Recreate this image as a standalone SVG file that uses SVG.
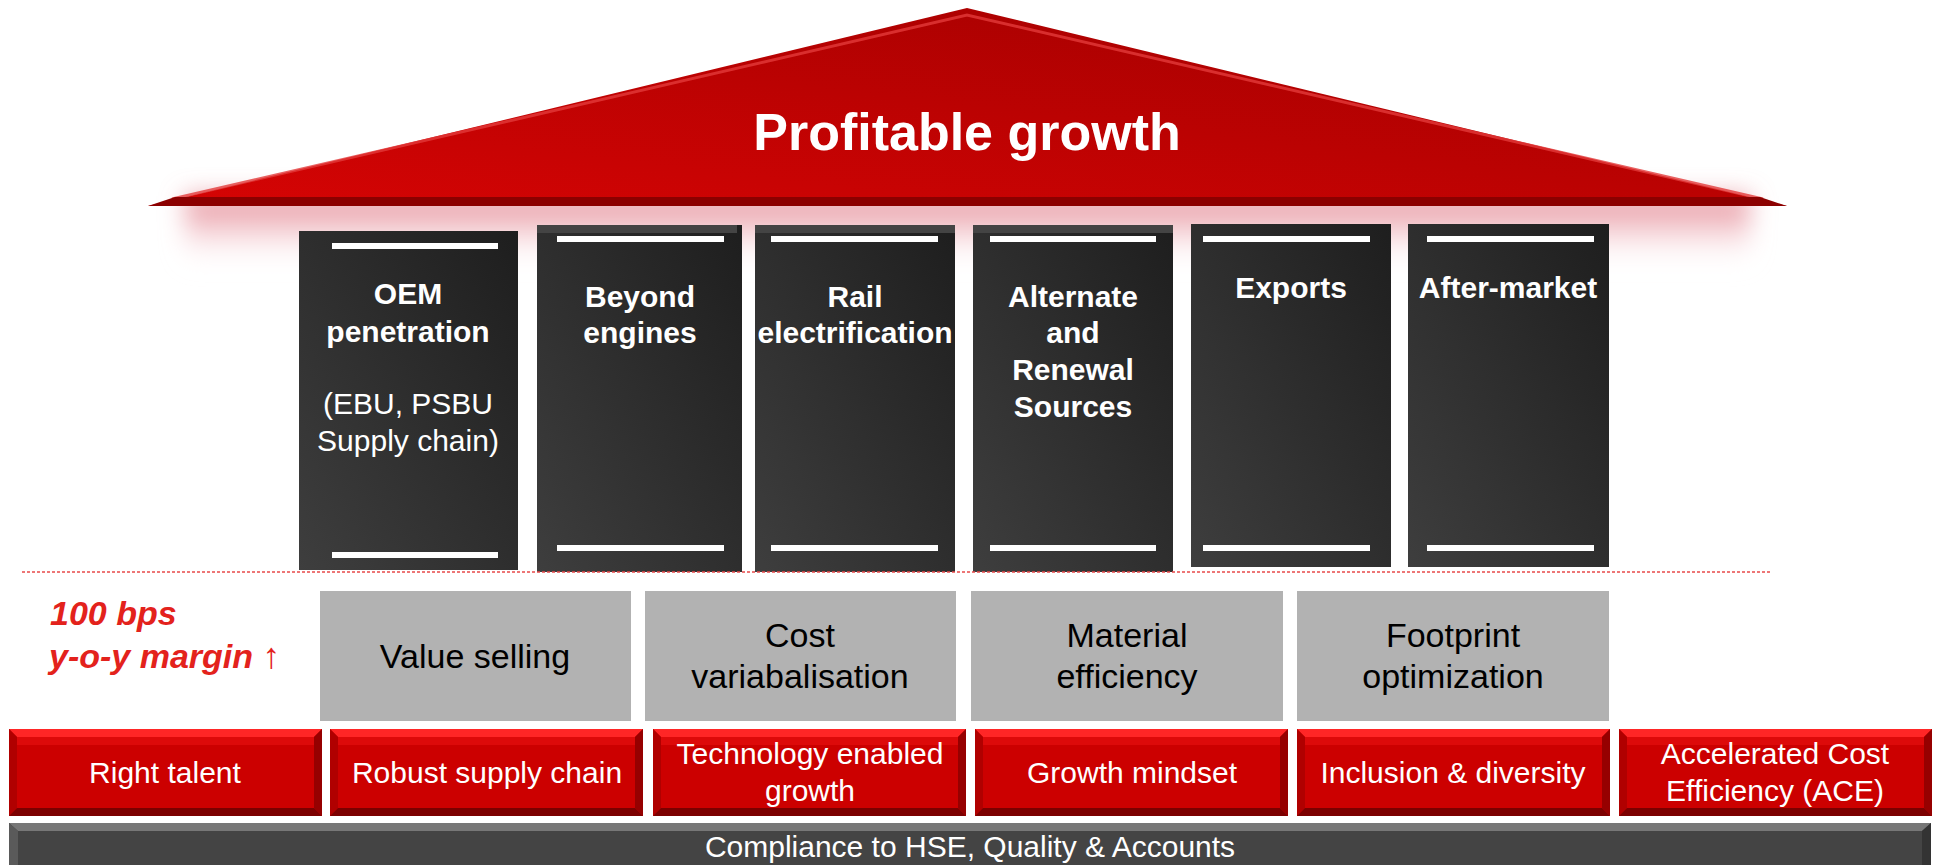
<svg xmlns="http://www.w3.org/2000/svg" width="1937" height="865" viewBox="0 0 1937 865">
<style>
.pt{font-family:"Liberation Sans",Arial,sans-serif;font-weight:bold;font-size:30px;fill:#fff;text-anchor:middle}
.pr{font-family:"Liberation Sans",Arial,sans-serif;font-size:30px;fill:#fff;text-anchor:middle}
.gt{font-family:"Liberation Sans",Arial,sans-serif;font-size:34px;fill:#000;text-anchor:middle}
.rt{font-family:"Liberation Sans",Arial,sans-serif;font-size:30px;fill:#fff;text-anchor:middle}
.lt{font-family:"Liberation Sans",Arial,sans-serif;font-size:34px;font-weight:bold;font-style:italic;fill:#e3221c}
.gb{fill:#b2b2b2}
.bar{fill:#fff}
.pil{fill:url(#pg)}
.strip{fill:#444}
</style>
<defs>
<linearGradient id="roofg" x1="0" y1="1" x2="1" y2="0">
<stop offset="0" stop-color="#d60404"/>
<stop offset="1" stop-color="#a00000"/>
</linearGradient>
<linearGradient id="pg" x1="0" y1="1" x2="1" y2="0">
<stop offset="0" stop-color="#3e3e3e"/>
<stop offset="1" stop-color="#1e1e1e"/>
</linearGradient>
<linearGradient id="glowg" x1="0" y1="0" x2="0" y2="1">
<stop offset="0" stop-color="#e07a86" stop-opacity="0.9"/>
<stop offset="0.5" stop-color="#f0b8c0" stop-opacity="0.6"/>
<stop offset="1" stop-color="#ffffff" stop-opacity="0"/>
</linearGradient>
<filter id="blur" x="-10%" y="-50%" width="120%" height="200%">
<feGaussianBlur stdDeviation="12"/>
</filter>
<symbol id="redbox" viewBox="0 0 313 87" width="313" height="87">
<rect x="0" y="0" width="313" height="87" fill="#cc0000"/>
<polygon points="0,0 313,0 305,8 8,8" fill="#ff2626"/>
<polygon points="0,0 8,8 8,79 0,87" fill="#b00000"/>
<polygon points="313,0 313,87 305,79 305,8" fill="#960000"/>
<polygon points="0,87 8,79 305,79 313,87" fill="#7c0000"/>
<rect x="8" y="8" width="297" height="8" fill="#dd0a0a"/>
</symbol>
</defs>

<!-- roof glow -->
<rect x="185" y="196" width="1565" height="70" fill="url(#glowg)" filter="url(#blur)"/>

<g id="roof">
<polygon points="967,8 148,206 1787,206" fill="url(#roofg)"/>
<polyline points="172,199 967,15 1763,199" fill="none" stroke="#e23a3a" stroke-width="3" stroke-opacity="0.8"/>
<polygon points="175,197 1760,197 1787,206 148,206" fill="#8c0000"/>
<text x="967" y="150" font-family="Liberation Sans, Arial, sans-serif" font-weight="bold" font-size="52" fill="#fff" text-anchor="middle">Profitable growth</text>
</g>

<g id="pillar-oem">
<rect class="pil" x="299" y="231" width="219" height="339"/>
<rect class="bar" x="332" y="243" width="166" height="6"/>
<rect class="bar" x="332" y="552" width="166" height="6"/>
<text class="pt" x="408" y="304">OEM</text>
<text class="pt" x="408" y="342">penetration</text>
<text class="pr" x="408" y="414">(EBU, PSBU</text>
<text class="pr" x="408" y="451">Supply chain)</text>
</g>

<g id="pillar-beyond">
<rect class="pil" x="537" y="225" width="205" height="347"/>
<rect class="strip" x="537" y="225" width="200" height="8"/>
<rect class="bar" x="557" y="236" width="167" height="6"/>
<rect class="bar" x="557" y="545" width="167" height="6"/>
<text class="pt" x="640" y="307">Beyond</text>
<text class="pt" x="640" y="343">engines</text>
</g>

<g id="pillar-rail">
<rect class="pil" x="755" y="225" width="200" height="347"/>
<rect class="strip" x="755" y="225" width="200" height="8"/>
<rect class="bar" x="771" y="236" width="167" height="6"/>
<rect class="bar" x="771" y="545" width="167" height="6"/>
<text class="pt" x="855" y="307">Rail</text>
<text class="pt" x="855" y="343">electrification</text>
</g>

<g id="pillar-alternate">
<rect class="pil" x="973" y="225" width="200" height="347"/>
<rect class="strip" x="973" y="225" width="200" height="8"/>
<rect class="bar" x="990" y="236" width="166" height="6"/>
<rect class="bar" x="990" y="545" width="166" height="6"/>
<text class="pt" x="1073" y="307">Alternate</text>
<text class="pt" x="1073" y="343">and</text>
<text class="pt" x="1073" y="380">Renewal</text>
<text class="pt" x="1073" y="417">Sources</text>
</g>

<g id="pillar-exports">
<rect class="pil" x="1191" y="224" width="200" height="343"/>
<rect class="bar" x="1203" y="236" width="167" height="6"/>
<rect class="bar" x="1203" y="545" width="167" height="6"/>
<text class="pt" x="1291" y="298">Exports</text>
</g>

<g id="pillar-aftermarket">
<rect class="pil" x="1408" y="224" width="201" height="343"/>
<rect class="bar" x="1427" y="236" width="167" height="6"/>
<rect class="bar" x="1427" y="545" width="167" height="6"/>
<text class="pt" x="1508" y="298">After-market</text>
</g>

<g id="connectors">
<line x1="22" y1="572" x2="1772" y2="572" stroke="#e84a4a" stroke-width="1.5" stroke-dasharray="3,2"/>
</g>

<g id="margin-label">
<text class="lt" x="50" y="625">100 bps</text>
<text class="lt" x="49" y="668">y-o-y margin <tspan font-style="normal" font-weight="normal" font-size="36">↑</tspan></text>
</g>

<g id="gray-value"><rect class="gb" x="320" y="591" width="311" height="130"/><text class="gt" x="475" y="668">Value selling</text></g>
<g id="gray-cost"><rect class="gb" x="645" y="591" width="311" height="130"/><text class="gt" x="800" y="647">Cost</text><text class="gt" x="800" y="688">variabalisation</text></g>
<g id="gray-material"><rect class="gb" x="971" y="591" width="312" height="130"/><text class="gt" x="1127" y="647">Material</text><text class="gt" x="1127" y="688">efficiency</text></g>
<g id="gray-footprint"><rect class="gb" x="1297" y="591" width="312" height="130"/><text class="gt" x="1453" y="647">Footprint</text><text class="gt" x="1453" y="688">optimization</text></g>

<g id="red-talent"><use href="#redbox" x="9" y="729"/><text class="rt" x="165" y="783">Right talent</text></g>
<g id="red-supply"><use href="#redbox" x="330" y="729"/><text class="rt" x="487" y="783">Robust supply chain</text></g>
<g id="red-tech"><use href="#redbox" x="653" y="729"/><text class="rt" x="810" y="764">Technology enabled</text><text class="rt" x="810" y="801">growth</text></g>
<g id="red-growth"><use href="#redbox" x="975" y="729"/><text class="rt" x="1132" y="783">Growth mindset</text></g>
<g id="red-inclusion"><use href="#redbox" x="1297" y="729"/><text class="rt" x="1453" y="783">Inclusion &amp; diversity</text></g>
<g id="red-ace"><use href="#redbox" x="1619" y="729"/><text class="rt" x="1775" y="764">Accelerated Cost</text><text class="rt" x="1775" y="801">Efficiency (ACE)</text></g>

<g id="compliance">
<rect x="9" y="823" width="1922" height="50" fill="#444"/>
<polygon points="9,823 1931,823 1922,831 18,831" fill="#777"/>
<polygon points="9,823 18,831 18,873 9,873" fill="#5a5a5a"/>
<polygon points="1931,823 1931,873 1922,873 1922,831" fill="#333"/>
<text x="970" y="857" font-family="Liberation Sans, Arial, sans-serif" font-size="30" fill="#fff" text-anchor="middle">Compliance to HSE, Quality &amp; Accounts</text>
</g>
</svg>
